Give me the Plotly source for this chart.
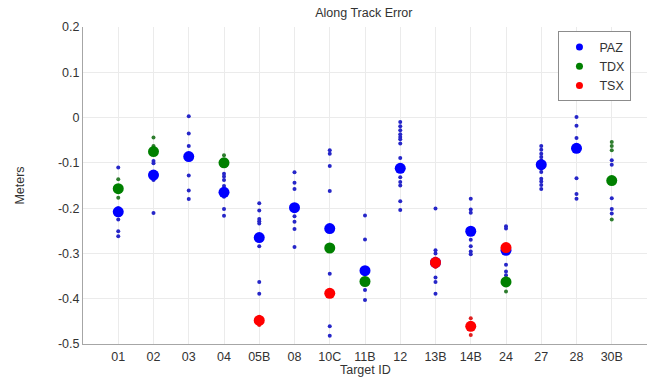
import plotly.graph_objects as go

# Target IDs along the x axis
targets = ["01", "02", "03", "04", "05B", "08", "10C", "11B", "12",
           "13B", "14B", "24", "27", "28", "30B"]

# Mean along-track error per target (meters)
paz_ids = ["01", "02", "03", "04", "05B", "08", "10C", "11B", "12",
           "13B", "14B", "24", "27", "28"]
paz_mean = [-0.208, -0.127, -0.086, -0.165, -0.265, -0.199, -0.245, -0.338,
            -0.112, -0.320, -0.251, -0.293, -0.104, -0.068]

tdx_ids = ["01", "02", "04", "10C", "11B", "24", "30B"]
tdx_mean = [-0.157, -0.075, -0.100, -0.288, -0.362, -0.363, -0.139]

tsx_ids = ["05B", "10C", "13B", "14B", "24"]
tsx_mean = [-0.448, -0.388, -0.320, -0.461, -0.287]

# Individual measurements per target (meters)
paz_obs = {
    "01": [-0.110, -0.200, -0.225, -0.251, -0.262],
    "02": [-0.096, -0.101, -0.138, -0.211],
    "03": [0.003, -0.035, -0.063, -0.128, -0.161, -0.180],
    "04": [-0.124, -0.130, -0.138, -0.151, -0.175, -0.202, -0.217],
    "05B": [-0.189, -0.205, -0.224, -0.229, -0.234, -0.284, -0.363, -0.389],
    "08": [-0.121, -0.144, -0.158, -0.218, -0.230, -0.246, -0.286],
    "10C": [-0.072, -0.080, -0.107, -0.162, -0.345, -0.461, -0.482],
    "11B": [-0.216, -0.269, -0.381, -0.403],
    "12": [-0.010, -0.019, -0.028, -0.037, -0.043, -0.048, -0.057, -0.089,
           -0.132, -0.142, -0.150, -0.185, -0.204],
    "13B": [-0.201, -0.293, -0.300, -0.353, -0.363, -0.389],
    "14B": [-0.179, -0.203, -0.210, -0.270, -0.284, -0.296, -0.302],
    "24": [-0.240, -0.245, -0.325, -0.340, -0.348],
    "27": [-0.063, -0.071, -0.080, -0.087, -0.094, -0.113, -0.120, -0.135,
           -0.141, -0.149, -0.158],
    "28": [0.001, -0.018, -0.045, -0.134, -0.169, -0.179],
    "30B": [-0.094, -0.104, -0.178, -0.202, -0.212],
}
tdx_obs = {
    "01": [-0.136, -0.177],
    "02": [-0.044, -0.063],
    "04": [-0.083],
    "24": [-0.355, -0.384],
    "30B": [-0.054, -0.063, -0.072, -0.225],
}
tsx_obs = {
    "05B": [-0.440, -0.458],
    "13B": [-0.311, -0.330],
    "14B": [-0.443, -0.480],
}

y_ticks = [0.2, 0.1, 0.0, -0.1, -0.2, -0.3, -0.4, -0.5]
y_tick_text = ["0.2", "0.1", "0", "-0.1", "-0.2", "-0.3", "-0.4", "-0.5"]

series = [
    ("PAZ", "#0000ff", "#2626c8", paz_ids, paz_mean, paz_obs),
    ("TDX", "#008000", "#2e7d2e", tdx_ids, tdx_mean, tdx_obs),
    ("TSX", "#ff0000", "#e02020", tsx_ids, tsx_mean, tsx_obs),
]

font = "Liberation Sans, Arial, sans-serif"
text_color = "#333333"

fig = go.Figure()

# small markers: individual measurements
for name, color, obs_color, ids, means, obs in series:
    xs, ys = [], []
    for t, vals in obs.items():
        xs += [t] * len(vals)
        ys += vals
    fig.add_trace(go.Scatter(
        x=xs, y=ys, mode="markers", name=name + " obs", showlegend=False,
        marker=dict(symbol="circle", size=4, color=obs_color),
        hoverinfo="x+y",
    ))

# large markers: per-target mean
for name, color, obs_color, ids, means, obs in series:
    fig.add_trace(go.Scatter(
        x=ids, y=means, mode="markers", name=name, showlegend=False,
        marker=dict(symbol="circle", size=11, color=color),
    ))

# legend entries with compact symbols
for name, color, obs_color, ids, means, obs in series:
    fig.add_trace(go.Scatter(
        x=[None], y=[None], mode="markers", name=name,
        marker=dict(symbol="circle", size=7, color=color),
    ))

axis_common = dict(
    showgrid=True, gridcolor="#ebebeb", gridwidth=1,
    showline=True, linecolor="#a6a6a6", linewidth=1,
    ticks="", zeroline=False, mirror=False, automargin=False,
    tickfont=dict(family=font, size=12.5, color=text_color),
)

fig.update_layout(
    width=658, height=379,
    margin=dict(l=83, r=11, t=27, b=35),
    paper_bgcolor="white", plot_bgcolor="white",
    font=dict(family=font, size=12.5, color=text_color),
    title=dict(text="Along Track Error", x=0.553, xanchor="center",
               y=1 - 13 / 379, yanchor="middle",
               font=dict(family=font, size=12.5, color=text_color)),
    xaxis=dict(
        type="category", categoryorder="array", categoryarray=targets,
        range=[-1, 15], ticklabelstandoff=1,
        **axis_common,
    ),
    yaxis=dict(
        range=[-0.5, 0.2], tickvals=y_ticks, ticktext=y_tick_text,
        title=dict(text="Meters", standoff=30,
                   font=dict(family=font, size=12.5, color=text_color)),
        **axis_common,
    ),
    legend=dict(
        x=0.843, y=0.986, xanchor="left", yanchor="top",
        bgcolor="white", bordercolor="#8c8c8c", borderwidth=1,
        font=dict(family=font, size=12.5, color=text_color),
        itemsizing="trace", tracegroupgap=0,
    ),
    annotations=[dict(
        text="Target ID", xref="paper", yref="paper",
        x=0.5, y=-0.081, xanchor="center", yanchor="middle",
        showarrow=False, font=dict(family=font, size=12.5, color=text_color),
    )],
)

fig.write_html("out.html")
